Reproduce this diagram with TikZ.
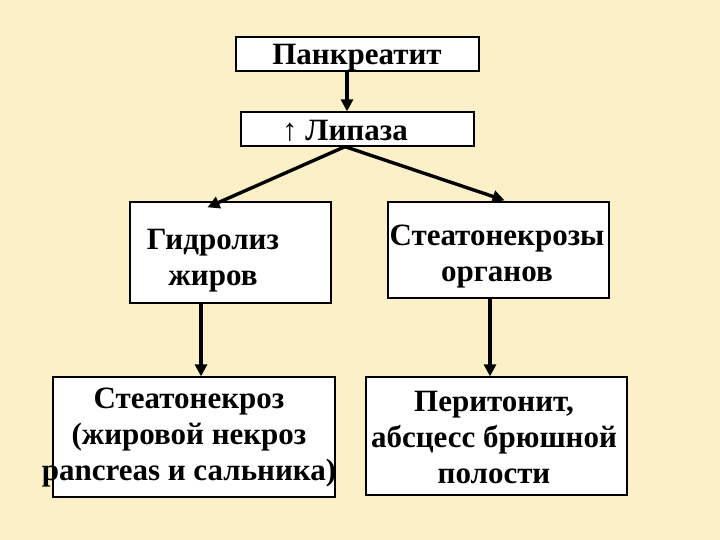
\documentclass[tikz,border=0pt]{standalone}
\usepackage{fontspec}
\setmainfont{Liberation Serif}
\usetikzlibrary{arrows.meta}
\definecolor{bgbeige}{RGB}{252,240,200}

\begin{document}
\begin{tikzpicture}[x=1pt,y=-1pt,
  box/.style={draw=black,fill=white,line width=1.3pt,inner sep=0pt},
  txt/.style={font=\bfseries\fontsize{31}{36}\selectfont,align=center,inner sep=0pt},
  arr/.style={line width=3.4pt,-{Triangle[length=12pt,width=12pt]}}]
\fill[bgbeige] (0,0) rectangle (720,540);
\useasboundingbox (0,0) rectangle (720,540);
% boxes
\node[box,minimum width=243pt,minimum height=34pt] (pank) at (357.5,54) {};
\node[box,minimum width=233pt,minimum height=34pt] (lip) at (357.5,129) {};
\node[box,minimum width=201pt,minimum height=101pt] (gidr) at (230.5,252.5) {};
\node[box,minimum width=221pt,minimum height=96pt] (steos) at (498.5,250) {};
\node[box,minimum width=282pt,minimum height=120pt] (steo) at (194,437) {};
\node[box,minimum width=261pt,minimum height=118pt] (perit) at (496.5,436) {};
% texts
\node[txt] (pank-t) at (357,58) {Панкреатит};
\node[txt] (lip-t) at (345,131) {↑ Липаза};
\node[txt] (gidr-t) at (213,261) {Гидролиз\\жиров};
\node[txt] (steos-t) at (497,257) {Стеатонекрозы\\органов};
\node[txt] (steo-t) at (189,438) {Стеатонекроз\\(жировой некроз\\pancreas и сальника)};
\node[txt] (perit-t) at (494,437) {Перитонит,\\абсцесс брюшной\\полости};
% arrows
\draw[arr] ([xshift=-10.5pt]pank.south) -- ([xshift=-10.5pt]lip.north);
\draw[arr] ([xshift=-12.5pt]lip.south) -- ([xshift=-23pt,yshift=-6pt]gidr.north);
\draw[arr] ([xshift=-12.5pt]lip.south) -- ([xshift=6pt,yshift=1pt]steos.north);
\draw[arr] ([xshift=-29.5pt]gidr.south) -- ([xshift=7pt]steo.north);
\draw[arr] ([xshift=-8.5pt]steos.south) -- ([xshift=-6.5pt]perit.north);
\end{tikzpicture}
\end{document}
